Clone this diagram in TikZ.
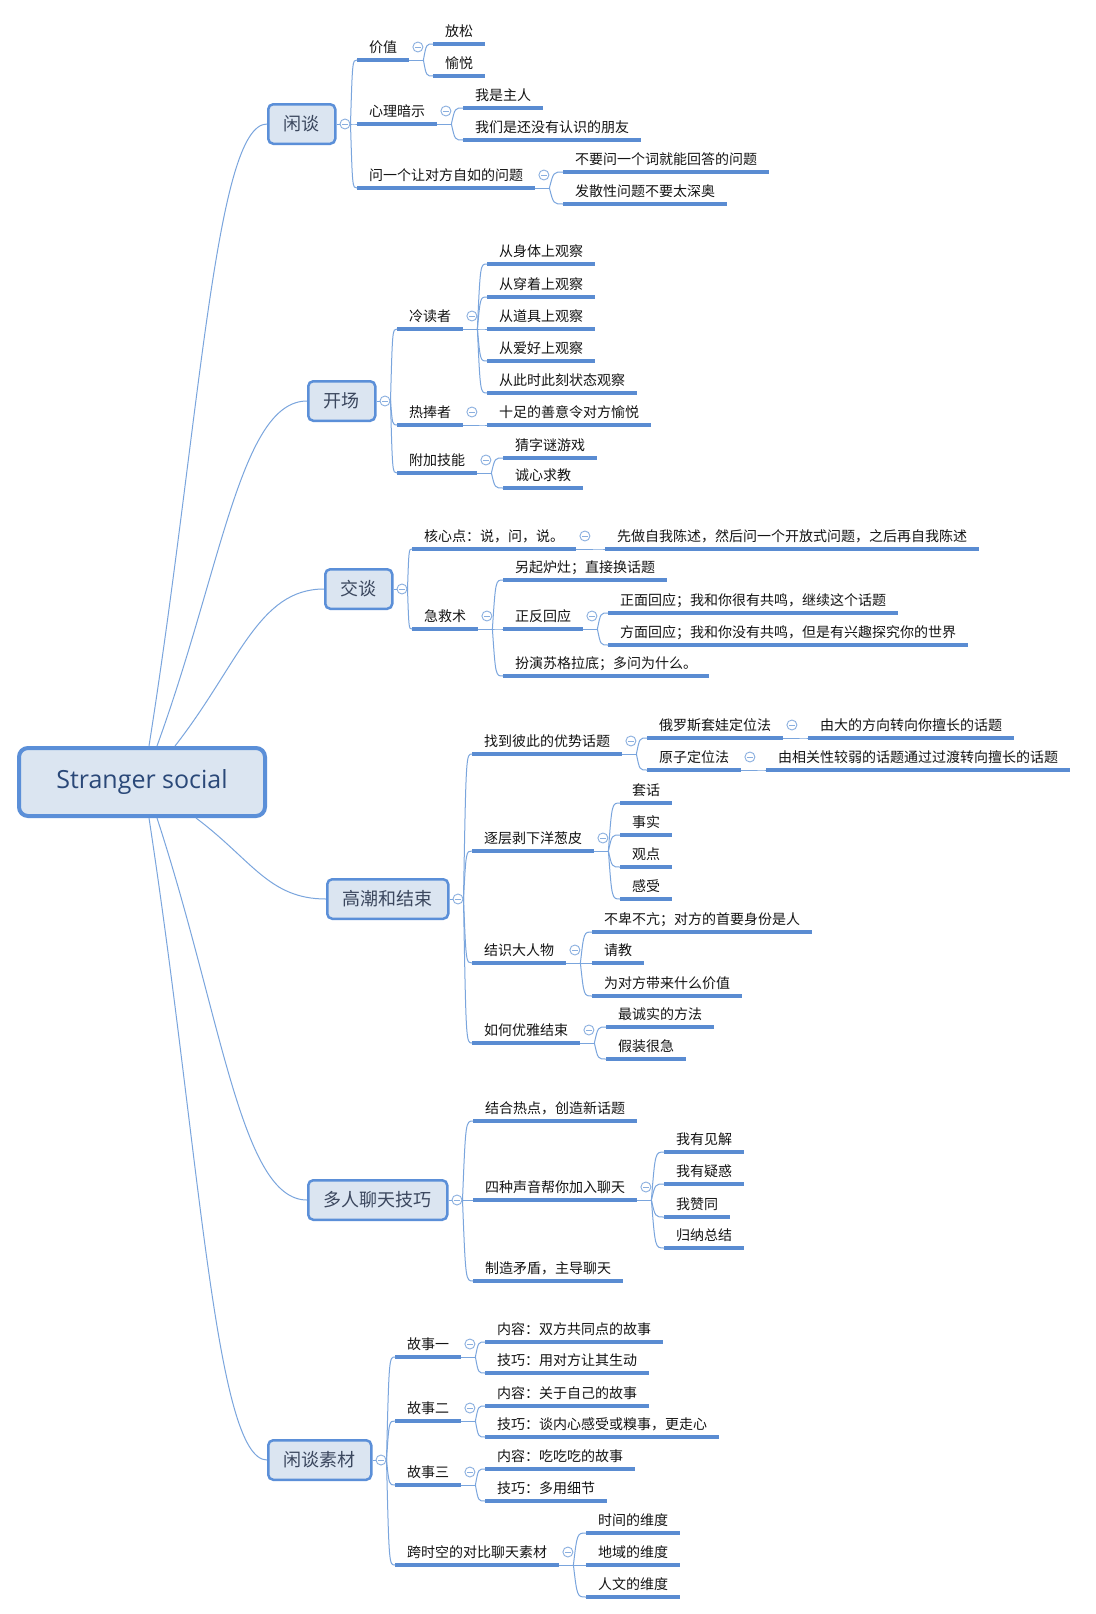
\documentclass[tikz,border=0pt]{standalone}
\usepackage{fontspec}
\setmainfont{Noto Sans CJK SC}
\newfontfamily\latina{Open Sans}
\usepackage{tikz}
\usetikzlibrary{calc}
\definecolor{azulmarco}{HTML}{5B8FD8}
\definecolor{azulfondo}{HTML}{DBE5F1}
\definecolor{azulraiz}{HTML}{2A4878}
\definecolor{gristexto}{HTML}{3B475E}
\definecolor{azulsub}{HTML}{5A8CD2}
\definecolor{azullinea}{HTML}{7AA5DD}
\definecolor{azulpliegue}{HTML}{8AAFDF}
\tikzset{
  raiz/.style={rectangle, rounded corners=9pt, draw=azulmarco, line width=4pt,
    fill=azulfondo, minimum width=246pt, minimum height=68pt,
    font=\latina\fontsize{25}{25}\selectfont, text=azulraiz},
  tema/.style={rectangle, rounded corners=5pt, draw=azulmarco, line width=2.5pt,
    fill=azulfondo, minimum height=39.5pt, inner xsep=15.5pt, anchor=west,
    font=\fontsize{18}{18}\selectfont, text=gristexto},
  subrayado/.style={draw=azulsub, line width=3.6pt},
  rama/.style={anchor=south west, inner xsep=12pt, inner ysep=4.5pt,
    text height=13.6pt, text depth=3pt, font=\fontsize{14}{14}\selectfont,
    text=black!92,
    append after command={(\tikzlastnode.south west) edge[subrayado] (\tikzlastnode.south east)}},
  enlace/.style={draw=azullinea, line width=1pt},
  pliegue/.style={circle, draw=azulpliegue, fill=white, line width=0.9pt,
    minimum size=10pt, inner sep=0pt,
    path picture={\draw[azulpliegue, line width=0.9pt]
      ([xshift=-2.8pt]path picture bounding box.center) --
      ([xshift=2.8pt]path picture bounding box.center);}}
}
% punto de union y boton de plegado
\newcommand{\plegar}[2]{%
  \coordinate (#1-j) at ([xshift=14pt]#1.#2);
  \draw[enlace] (#1.#2) -- (#1-j);
  \node[pliegue] (#1-f) at ([xshift=8.5pt]#1.east) {};}
\newcommand{\unir}[2]{%
  \draw[enlace] (#1) .. controls ($(#1 |- #2.south west)!0.3!(#2.south west)$) .. (#2.south west);}
\newcommand{\hijos}[4]{%
  \plegar{#1}{#2}%
  \foreach \n/\y/\t in {#4} {%
    \node[rama] (#1\n) at (#3,\y) {\t};
    \unir{#1-j}{#1\n}
  }}

\begin{document}
\begin{tikzpicture}[x=1pt, y=-1pt]
  \path[fill=white] (0,0) rectangle (1095,1614);

  % --- Raiz ---
  \node[raiz] (centro) at (142,782) {Stranger social};

  % --- 闲谈 ---
  \node[tema] (xt) at (267,124) {闲谈};
  \hijos{xt}{east}{357}{a/60/价值, b/124/心理暗示, c/188/问一个让对方自如的问题}
  \hijos{xta}{south east}{433}{1/44/放松, 2/76/愉悦}
  \hijos{xtb}{south east}{463}{1/108/我是主人, 2/140/我们是还没有认识的朋友}
  \hijos{xtc}{south east}{563}{1/172/不要问一个词就能回答的问题, 2/204/发散性问题不要太深奥}

  % --- 开场 ---
  \node[tema] (kc) at (307,401) {开场};
  \hijos{kc}{east}{397}{a/329/冷读者, b/425/热捧者, c/473/附加技能}
  \hijos{kca}{south east}{487}{1/264/从身体上观察, 2/297/从穿着上观察, 3/329/从道具上观察,
    4/361/从爱好上观察, 5/393/从此时此刻状态观察}
  \hijos{kcb}{south east}{487}{1/425/十足的善意令对方愉悦}
  \hijos{kcc}{south east}{503}{1/458/猜字谜游戏, 2/488/诚心求教}

  % --- 交谈 ---
  \node[tema] (jt) at (324,589) {交谈};
  \hijos{jt}{east}{412}{a/549/核心点：说，问，说。, b/629/急救术}
  \hijos{jta}{south east}{605}{1/549/先做自我陈述，然后问一个开放式问题，之后再自我陈述}
  \hijos{jtb}{south east}{503}{1/580/另起炉灶；直接换话题, 2/629/正反回应, 3/676/扮演苏格拉底；多问为什么。}
  \hijos{jtb2}{south east}{608}{1/613/正面回应；我和你很有共鸣，继续这个话题,
    2/645/方面回应；我和你没有共鸣，但是有兴趣探究你的世界}

  % --- 高潮和结束 ---
  \node[tema] (gc) at (326,899) {高潮和结束};
  \hijos{gc}{east}{472}{a/754/找到彼此的优势话题, b/851/逐层剥下洋葱皮, c/963/结识大人物, d/1043/如何优雅结束}
  \hijos{gca}{south east}{647}{1/738/俄罗斯套娃定位法, 2/770/原子定位法}
  \hijos{gca1}{south east}{808}{1/738/由大的方向转向你擅长的话题}
  \hijos{gca2}{south east}{766}{1/770/由相关性较弱的话题通过过渡转向擅长的话题}
  \hijos{gcb}{south east}{620}{1/803/套话, 2/835/事实, 3/867/观点, 4/899/感受}
  \hijos{gcc}{south east}{592}{1/932/不卑不亢；对方的首要身份是人, 2/963/请教, 3/996/为对方带来什么价值}
  \hijos{gcd}{south east}{606}{1/1027/最诚实的方法, 2/1059/假装很急}

  % --- 多人聊天技巧 ---
  \node[tema] (dr) at (307,1200) {多人聊天技巧};
  \hijos{dr}{east}{473}{a/1121/结合热点，创造新话题, b/1200/四种声音帮你加入聊天, c/1281/制造矛盾，主导聊天}
  \hijos{drb}{south east}{664}{1/1152/我有见解, 2/1184/我有疑惑, 3/1217/我赞同, 4/1248/归纳总结}

  % --- 闲谈素材 ---
  \node[tema] (sc) at (267,1460) {闲谈素材};
  \hijos{sc}{east}{395}{a/1357/故事一, b/1421/故事二, c/1485/故事三, d/1565/跨时空的对比聊天素材}
  \hijos{sca}{south east}{485}{1/1342/内容：双方共同点的故事, 2/1373/技巧：用对方让其生动}
  \hijos{scb}{south east}{485}{1/1406/内容：关于自己的故事, 2/1437/技巧：谈内心感受或糗事，更走心}
  \hijos{scc}{south east}{485}{1/1469/内容：吃吃吃的故事, 2/1501/技巧：多用细节}
  \hijos{scd}{south east}{586}{1/1533/时间的维度, 2/1565/地域的维度, 3/1597/人文的维度}

  % --- Curvas desde la raiz ---
  \draw[enlace] ([xshift=7pt]centro.north)  .. controls +(51,-323) and +(-52,0) .. (xt.west);
  \draw[enlace] ([xshift=15pt]centro.north) .. controls +(65,-179) and +(-66,0) .. (kc.west);
  \draw[enlace] ([xshift=33pt]centro.north) .. controls +(64,-82)  and +(-66,0) .. (jt.west);
  \draw[enlace] ([xshift=54pt]centro.south) .. controls +(56,42)   and +(-57,0) .. (gc.west);
  \draw[enlace] ([xshift=15pt]centro.south) .. controls +(65,199)  and +(-66,0) .. (dr.west);
  \draw[enlace] ([xshift=7pt]centro.south)  .. controls +(51,334)  and +(-52,0) .. (sc.west);

\end{tikzpicture}
\end{document}
